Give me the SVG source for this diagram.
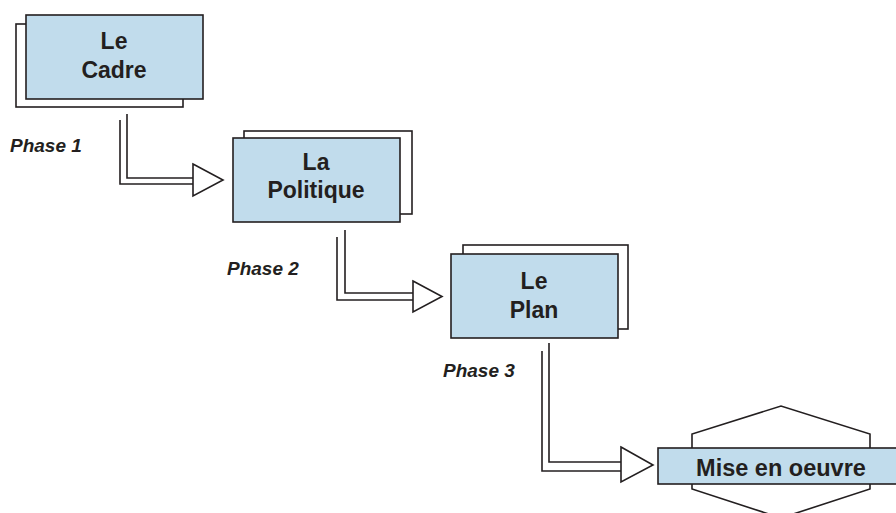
<svg xmlns="http://www.w3.org/2000/svg" width="896" height="513" viewBox="0 0 896 513">
<style>
.back{fill:#ffffff;stroke:#231f20;stroke-width:1.6}
.front{fill:#c1dcec;stroke:#231f20;stroke-width:1.6}
.lbl{font-family:"Liberation Sans",Arial,sans-serif;font-weight:bold;font-size:23px;fill:#231f20;text-anchor:middle}
.ph{font-family:"Liberation Sans",Arial,sans-serif;font-weight:bold;font-style:italic;font-size:19px;fill:#231f20}
.ln{fill:none;stroke:#231f20;stroke-width:1.6}
.hd{fill:#ffffff;stroke:#231f20;stroke-width:1.6;stroke-linejoin:miter}
</style>
<rect width="896" height="513" fill="#ffffff"/>
<g id="connectors">
  <path class="ln" d="M120,120 V184 H194"/>
  <path class="ln" d="M127,114 V178 H194"/>
  <polygon class="hd" points="193,164 223,180 193,196"/>
  <path class="ln" d="M337,237 V300 H414"/>
  <path class="ln" d="M345,230 V293 H414"/>
  <polygon class="hd" points="413,281 442,296.5 413,312"/>
  <path class="ln" d="M542,351 V471 H622"/>
  <path class="ln" d="M549,343 V462 H622"/>
  <polygon class="hd" points="621,447 653,465 621,482"/>
</g>
<g id="cadre">
  <rect class="back" x="16" y="24" width="167" height="83"/>
  <rect class="front" x="26" y="15" width="177" height="84"/>
  <text class="lbl" x="114" y="49">Le</text>
  <text class="lbl" x="114" y="78">Cadre</text>
</g>
<g id="politique">
  <rect class="back" x="244" y="131" width="168" height="83"/>
  <rect class="front" x="233" y="138" width="167" height="84"/>
  <text class="lbl" x="316" y="170">La</text>
  <text class="lbl" x="316" y="198">Politique</text>
</g>
<g id="plan">
  <rect class="back" x="463" y="245" width="165" height="84"/>
  <rect class="front" x="451" y="254" width="167" height="84"/>
  <text class="lbl" x="534" y="289">Le</text>
  <text class="lbl" x="534" y="318">Plan</text>
</g>
<g id="mise">
  <polygon class="back" points="692,489 692,434 781,406 870,434 870,489 781,518"/>
  <rect class="front" x="658" y="448" width="250" height="36"/>
  <text class="lbl" x="781" y="476" style="font-size:23.5px">Mise en oeuvre</text>
</g>
<g id="phases">
  <text class="ph" x="10" y="152">Phase 1</text>
  <text class="ph" x="227" y="275">Phase 2</text>
  <text class="ph" x="443" y="377">Phase 3</text>
</g>
</svg>
